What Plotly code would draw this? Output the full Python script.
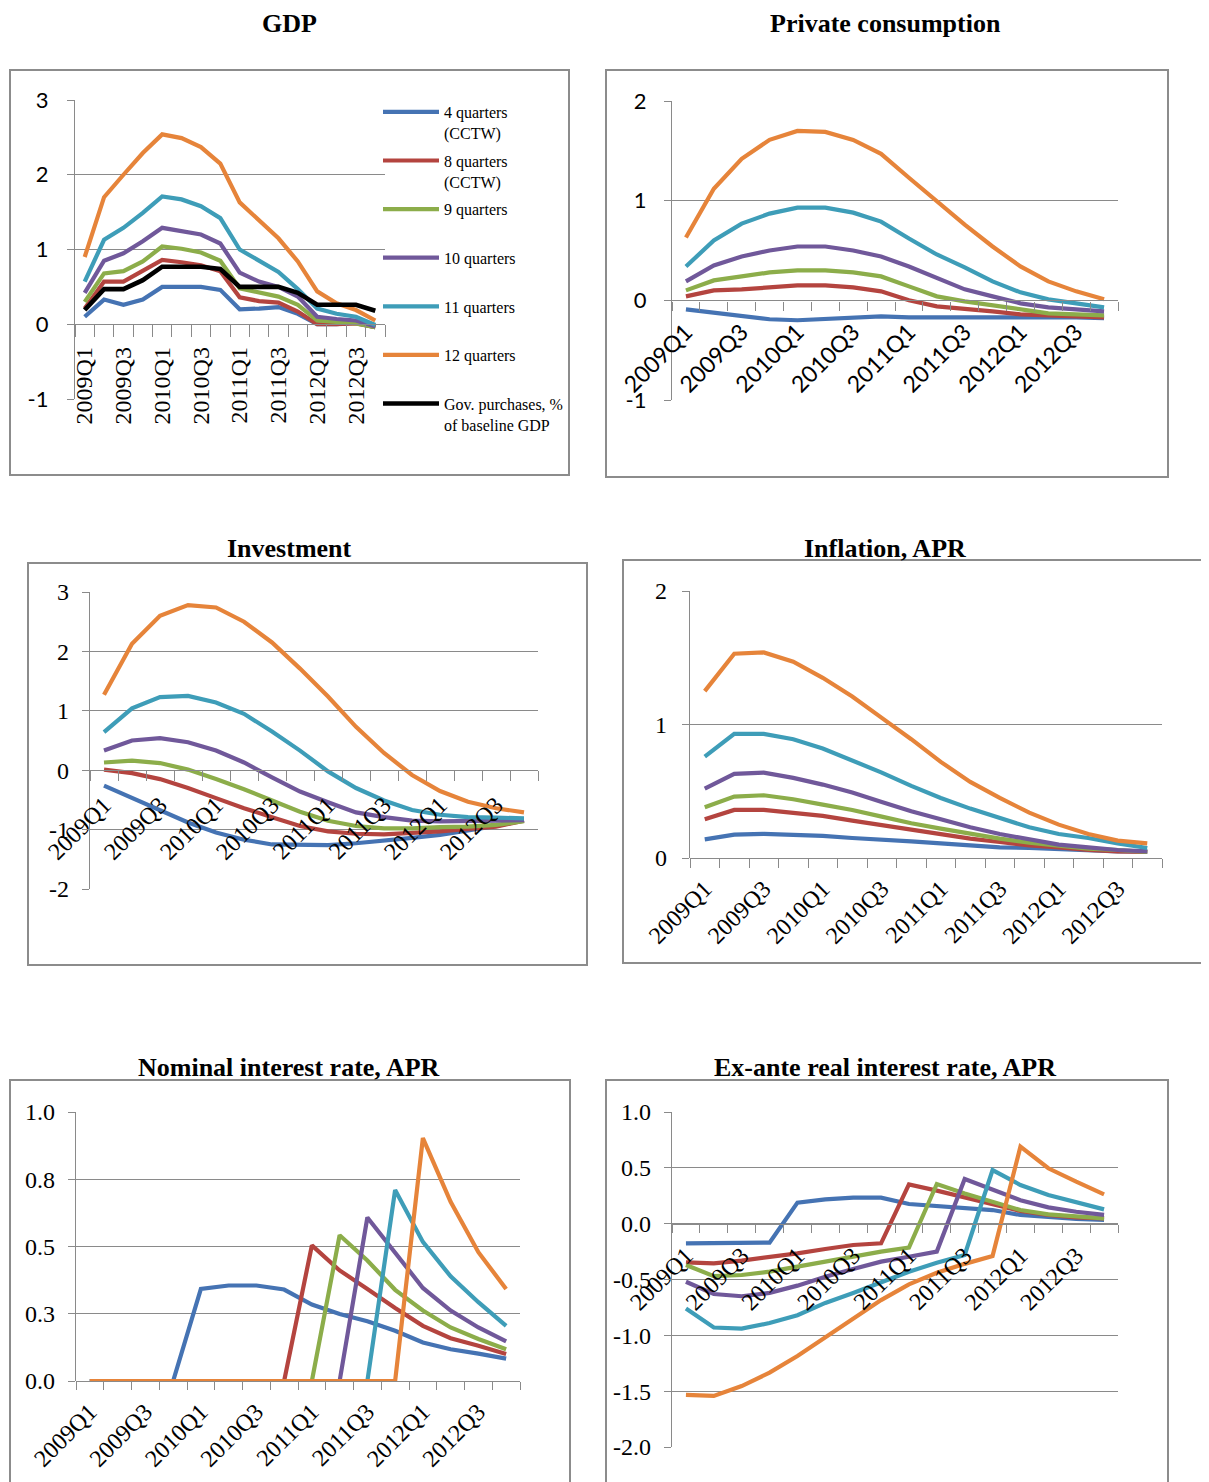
import plotly.graph_objects as go

W, H = 1209, 1482
PAGE_OFF = 8  # default body margin of the html page
FW, FH = W - PAGE_OFF, H - PAGE_OFF

# ---------------- data ----------------
quarters = ["2009Q1", "2009Q2", "2009Q3", "2009Q4", "2010Q1", "2010Q2", "2010Q3", "2010Q4",
            "2011Q1", "2011Q2", "2011Q3", "2011Q4", "2012Q1", "2012Q2", "2012Q3", "2012Q4"]
tick_labels = ["2009Q1", "2009Q3", "2010Q1", "2010Q3", "2011Q1", "2011Q3", "2012Q1", "2012Q3"]
series_names = ["4 quarters (CCTW)", "8 quarters (CCTW)", "9 quarters", "10 quarters",
                "11 quarters", "12 quarters"]
gov_name = "Gov. purchases, % of baseline GDP"

gdp_4q = [0.10, 0.33, 0.26, 0.33, 0.50, 0.50, 0.50, 0.46, 0.20, 0.21, 0.23, 0.14, 0.00, 0.00, 0.02, -0.04]
gdp_8q = [0.21, 0.57, 0.57, 0.71, 0.86, 0.83, 0.79, 0.71, 0.36, 0.31, 0.29, 0.17, 0.00, 0.00, 0.01, -0.04]
gdp_9q = [0.30, 0.68, 0.71, 0.84, 1.04, 1.01, 0.96, 0.85, 0.48, 0.42, 0.37, 0.26, 0.05, 0.03, 0.01, -0.04]
gdp_10q = [0.42, 0.85, 0.95, 1.11, 1.29, 1.25, 1.20, 1.08, 0.69, 0.57, 0.50, 0.37, 0.10, 0.07, 0.05, -0.03]
gdp_11q = [0.57, 1.13, 1.29, 1.49, 1.71, 1.67, 1.58, 1.42, 1.00, 0.85, 0.70, 0.47, 0.21, 0.14, 0.10, -0.01]
gdp_12q = [0.90, 1.70, 2.00, 2.29, 2.54, 2.49, 2.37, 2.15, 1.63, 1.39, 1.15, 0.84, 0.44, 0.28, 0.19, 0.05]
gdp_gov = [0.19, 0.47, 0.47, 0.59, 0.77, 0.77, 0.77, 0.74, 0.50, 0.50, 0.50, 0.42, 0.26, 0.26, 0.26, 0.18]

cons_4q = [-0.09, -0.12, -0.16, -0.19, -0.20, -0.19, -0.18, -0.16, -0.17, -0.17, -0.16, -0.16, -0.17, -0.17, -0.17, -0.18]
cons_8q = [0.04, 0.10, 0.11, 0.13, 0.15, 0.15, 0.13, 0.09, 0.00, -0.06, -0.08, -0.11, -0.14, -0.15, -0.16, -0.17]
cons_9q = [0.10, 0.20, 0.24, 0.28, 0.30, 0.30, 0.28, 0.24, 0.14, 0.04, -0.01, -0.05, -0.10, -0.13, -0.14, -0.15]
cons_10q = [0.19, 0.35, 0.44, 0.50, 0.54, 0.54, 0.50, 0.44, 0.34, 0.23, 0.11, 0.04, -0.03, -0.07, -0.09, -0.11]
cons_11q = [0.34, 0.60, 0.77, 0.87, 0.93, 0.93, 0.88, 0.79, 0.62, 0.46, 0.33, 0.19, 0.08, 0.01, -0.03, -0.07]
cons_12q = [0.63, 1.12, 1.42, 1.61, 1.70, 1.69, 1.61, 1.47, 1.23, 0.99, 0.76, 0.54, 0.34, 0.19, 0.09, 0.01]

inv_4q = [-0.26, -0.47, -0.68, -0.88, -1.05, -1.17, -1.25, -1.26, -1.26, -1.23, -1.19, -1.14, -1.09, -1.02, -0.94, -0.84]
inv_8q = [0.01, -0.05, -0.15, -0.30, -0.47, -0.64, -0.79, -0.94, -1.03, -1.07, -1.08, -1.06, -1.03, -0.99, -0.95, -0.85]
inv_9q = [0.13, 0.16, 0.12, 0.01, -0.15, -0.32, -0.51, -0.70, -0.85, -0.94, -0.98, -0.98, -0.96, -0.95, -0.92, -0.86]
inv_10q = [0.33, 0.50, 0.54, 0.47, 0.33, 0.13, -0.12, -0.36, -0.54, -0.71, -0.79, -0.85, -0.86, -0.86, -0.85, -0.84]
inv_11q = [0.64, 1.04, 1.23, 1.25, 1.14, 0.95, 0.65, 0.33, -0.02, -0.30, -0.51, -0.67, -0.75, -0.79, -0.80, -0.81]
inv_12q = [1.27, 2.13, 2.60, 2.78, 2.74, 2.50, 2.15, 1.71, 1.24, 0.73, 0.29, -0.08, -0.35, -0.53, -0.64, -0.71]

infl_4q = [0.14, 0.175, 0.18, 0.175, 0.165, 0.15, 0.14, 0.125, 0.11, 0.095, 0.08, 0.075, 0.065, 0.06, 0.05, 0.05]
infl_8q = [0.29, 0.36, 0.36, 0.34, 0.315, 0.28, 0.245, 0.21, 0.18, 0.145, 0.12, 0.095, 0.08, 0.06, 0.05, 0.045]
infl_9q = [0.38, 0.46, 0.47, 0.44, 0.40, 0.36, 0.31, 0.26, 0.22, 0.18, 0.145, 0.115, 0.09, 0.07, 0.06, 0.045]
infl_10q = [0.52, 0.63, 0.64, 0.60, 0.55, 0.49, 0.42, 0.35, 0.29, 0.23, 0.18, 0.14, 0.10, 0.08, 0.06, 0.05]
infl_11q = [0.76, 0.93, 0.93, 0.89, 0.82, 0.73, 0.64, 0.54, 0.45, 0.37, 0.30, 0.23, 0.18, 0.15, 0.11, 0.075]
infl_12q = [1.25, 1.53, 1.54, 1.47, 1.35, 1.21, 1.05, 0.89, 0.72, 0.57, 0.45, 0.34, 0.25, 0.18, 0.13, 0.11]

nom_4q = [0, 0, 0, 0, 0.342, 0.355, 0.355, 0.34, 0.284, 0.249, 0.222, 0.187, 0.143, 0.118, 0.102, 0.083]
nom_8q = [0, 0, 0, 0, 0, 0, 0, 0, 0.504, 0.411, 0.342, 0.271, 0.205, 0.159, 0.131, 0.10]
nom_9q = [0, 0, 0, 0, 0, 0, 0, 0, 0, 0.542, 0.448, 0.339, 0.262, 0.199, 0.156, 0.118]
nom_10q = [0, 0, 0, 0, 0, 0, 0, 0, 0, 0, 0.608, 0.479, 0.346, 0.262, 0.199, 0.147]
nom_11q = [0, 0, 0, 0, 0, 0, 0, 0, 0, 0, 0, 0.71, 0.517, 0.389, 0.293, 0.205]
nom_12q = [0, 0, 0, 0, 0, 0, 0, 0, 0, 0, 0, 0, 0.903, 0.666, 0.479, 0.342]

real_4q = [-0.176, -0.176, -0.176, -0.17, 0.188, 0.218, 0.233, 0.233, 0.176, 0.158, 0.137, 0.122, 0.078, 0.057, 0.042, 0.033]
real_8q = [-0.346, -0.355, -0.331, -0.30, -0.266, -0.227, -0.191, -0.176, 0.352, 0.296, 0.236, 0.182, 0.113, 0.078, 0.057, 0.048]
real_9q = [-0.37, -0.47, -0.46, -0.43, -0.385, -0.34, -0.29, -0.25, -0.215, 0.355, 0.27, 0.197, 0.122, 0.084, 0.063, 0.048]
real_10q = [-0.52, -0.63, -0.65, -0.62, -0.555, -0.475, -0.406, -0.34, -0.296, -0.25, 0.40, 0.30, 0.21, 0.146, 0.107, 0.078]
real_11q = [-0.76, -0.93, -0.94, -0.89, -0.82, -0.71, -0.62, -0.525, -0.43, -0.35, -0.28, 0.48, 0.346, 0.257, 0.188, 0.128]
real_12q = [-1.534, -1.543, -1.454, -1.334, -1.185, -1.018, -0.848, -0.684, -0.543, -0.44, -0.36, -0.29, 0.69, 0.496, 0.376, 0.263]

# ---------------- style ----------------
COLORS = ["#4573B3", "#B4443F", "#8CAD4A", "#70589A", "#3E9DB8", "#E6843A"]
GOV_COLOR = "#000000"
GRID = "#8A8A8A"
BOX = "#8C8C8C"
SERIF = "Liberation Serif, Times New Roman, serif"
SANS = "Lato, Carlito, Calibri, sans-serif"


def fx(px):
    return (px - PAGE_OFF) / FW


def fy(py):
    return 1 - (py - PAGE_OFF) / FH


panels = [
    dict(title="GDP", tx=289, ty=24, box=(10, 70, 569, 475),
         plot=(75, 385, 100, 399), yr=(-1, 3), yt=[-1, 0, 1, 2, 3], ytt=["-1", "0", "1", "2", "3"],
         series=[gdp_4q, gdp_8q, gdp_9q, gdp_10q, gdp_11q, gdp_12q], gov=gdp_gov,
         angle=-90, xfont=dict(family=SERIF, size=24, color="black"), xstand=12, xtl=12,
         yfont=dict(family=SANS, size=22, color="black"), ystand=14),
    dict(title="Private consumption", tx=885, ty=24, box=(606, 70, 1168, 477),
         plot=(672, 1118, 101, 400), yr=(-1, 2), yt=[-1, 0, 1, 2], ytt=["-1", "0", "1", "2"],
         series=[cons_4q, cons_8q, cons_9q, cons_10q, cons_11q, cons_12q], gov=None,
         angle=-45, xfont=dict(family=SANS, size=23, color="black"), xstand=8, xtl=9,
         yfont=dict(family=SANS, size=22, color="black"), ystand=13),
    dict(title="Investment", tx=289, ty=548, box=(28, 563, 587, 965),
         plot=(90, 538, 592, 889), yr=(-2, 3), yt=[-2, -1, 0, 1, 2, 3], ytt=["-2", "-1", "0", "1", "2", "3"],
         series=[inv_4q, inv_8q, inv_9q, inv_10q, inv_11q, inv_12q], gov=None,
         angle=-45, xfont=dict(family=SERIF, size=24, color="black"), xstand=10, xtl=10,
         yfont=dict(family=SERIF, size=24, color="black"), ystand=8),
    dict(title="Inflation, APR", tx=885, ty=548, box=(623, 560, 1215, 963),
         plot=(690, 1162, 591, 858), yr=(0, 2), yt=[0, 1, 2], ytt=["0", "1", "2"],
         series=[infl_4q, infl_8q, infl_9q, infl_10q, infl_11q, infl_12q], gov=None,
         angle=-45, xfont=dict(family=SERIF, size=24, color="black"), xstand=6, xtl=9,
         yfont=dict(family=SERIF, size=24, color="black"), ystand=10),
    dict(title="Nominal interest rate, APR", tx=289, ty=1067, box=(10, 1080, 570, 1495),
         plot=(76, 520, 1112, 1381), yr=(0, 1), yt=[0, 0.25, 0.5, 0.75, 1.0],
         ytt=["0.0", "0.3", "0.5", "0.8", "1.0"],
         series=[nom_4q, nom_8q, nom_9q, nom_10q, nom_11q, nom_12q], gov=None,
         angle=-45, xfont=dict(family=SERIF, size=24, color="black"), xstand=6, xtl=8,
         yfont=dict(family=SERIF, size=24, color="black"), ystand=8),
    dict(title="Ex-ante real interest rate, APR", tx=885, ty=1067, box=(606, 1080, 1168, 1495),
         plot=(672, 1118, 1112, 1447), yr=(-2, 1), yt=[-2, -1.5, -1, -0.5, 0, 0.5, 1.0],
         ytt=["-2.0", "-1.5", "-1.0", "-0.5", "0.0", "0.5", "1.0"],
         series=[real_4q, real_8q, real_9q, real_10q, real_11q, real_12q], gov=None,
         angle=-45, xfont=dict(family=SERIF, size=24, color="black"), xstand=7, xtl=8,
         yfont=dict(family=SERIF, size=24, color="black"), ystand=8),
]

legend_labels = ["4 quarters<br>(CCTW)", "8 quarters<br>(CCTW)", "9 quarters<br> ",
                 "10 quarters<br> ", "11 quarters<br> ", "12 quarters<br> "]

fig = go.Figure()
layout = dict(width=FW, height=FH, margin=dict(l=0, r=0, t=0, b=0),
              paper_bgcolor="white", plot_bgcolor="rgba(0,0,0,0)",
              template="none", showlegend=True,
              legend=dict(x=fx(378), y=fy(95), xanchor="left", yanchor="top",
                          bgcolor="rgba(0,0,0,0)", borderwidth=0, valign="top",
                          tracegroupgap=4, traceorder="grouped", itemwidth=56,
                          font=dict(family=SERIF, size=16, color="black")),
              shapes=[], annotations=[])

xcat = list(range(len(quarters)))
for i, p in enumerate(panels, start=1):
    xs = "" if i == 1 else str(i)
    x0, x1, ytop, ybot = p["plot"]
    ymin, ymax = p["yr"]
    d0, d1 = fy(ybot), fy(ytop)
    zero_pos = d0 + (0 - ymin) / (ymax - ymin) * (d1 - d0)
    for k, vals in enumerate(p["series"]):
        fig.add_trace(go.Scatter(
            x=xcat, y=vals, mode="lines", name=legend_labels[k] if i == 1 else series_names[k],
            legendgroup=f"g{k}", showlegend=(i == 1),
            line=dict(color=COLORS[k], width=4.2), xaxis="x" + xs, yaxis="y" + xs,
            hovertext=quarters, hoverinfo="text+y"))
    if p["gov"] is not None:
        fig.add_trace(go.Scatter(
            x=xcat, y=p["gov"], mode="lines", name="Gov. purchases, %<br>of baseline GDP",
            legendgroup="gov", showlegend=True,
            line=dict(color=GOV_COLOR, width=4.6), xaxis="x" + xs, yaxis="y" + xs,
            hovertext=quarters, hoverinfo="text+y"))
    layout["xaxis" + xs] = dict(
        domain=[fx(x0), fx(x1)], range=[-0.5, len(quarters) - 0.5],
        anchor="free", position=zero_pos,
        tickmode="array", tickvals=[quarters.index(t) for t in tick_labels], ticktext=tick_labels,
        ticks="", tickangle=p["angle"], tickfont=p["xfont"], ticklabelstandoff=p["xstand"],
        showline=True, linecolor=GRID, linewidth=1.4, showgrid=False, zeroline=False,
        minor=dict(tickmode="array", tickvals=[j - 0.5 for j in range(len(quarters) + 1)],
                   ticks="outside", ticklen=p["xtl"], tickwidth=1.3, tickcolor=GRID, showgrid=False),
        fixedrange=True)
    layout["yaxis" + xs] = dict(
        domain=[d0, d1], range=[ymin, ymax], anchor="x" + xs,
        tickmode="array", tickvals=p["yt"], ticktext=p["ytt"],
        ticks="outside", ticklen=7, tickwidth=1.3, tickcolor=GRID,
        tickfont=p["yfont"], ticklabelstandoff=p["ystand"],
        showline=True, linecolor=GRID, linewidth=1.4,
        showgrid=True, gridcolor=GRID, gridwidth=1.4, zeroline=False, fixedrange=True)
    bx0, by0, bx1, by1 = p["box"]
    layout["shapes"].append(dict(type="rect", xref="paper", yref="paper",
                                 x0=fx(bx0), x1=fx(bx1), y0=fy(by1), y1=fy(by0),
                                 line=dict(color=BOX, width=2), layer="below"))
    layout["annotations"].append(dict(
        text="<b>" + p["title"] + "</b>", xref="paper", yref="paper",
        x=fx(p["tx"]), y=fy(p["ty"]), xanchor="center", yanchor="middle", showarrow=False,
        font=dict(family=SERIF, size=26, color="black")))

fig.update_layout(**layout)
fig.write_html("out.html")
